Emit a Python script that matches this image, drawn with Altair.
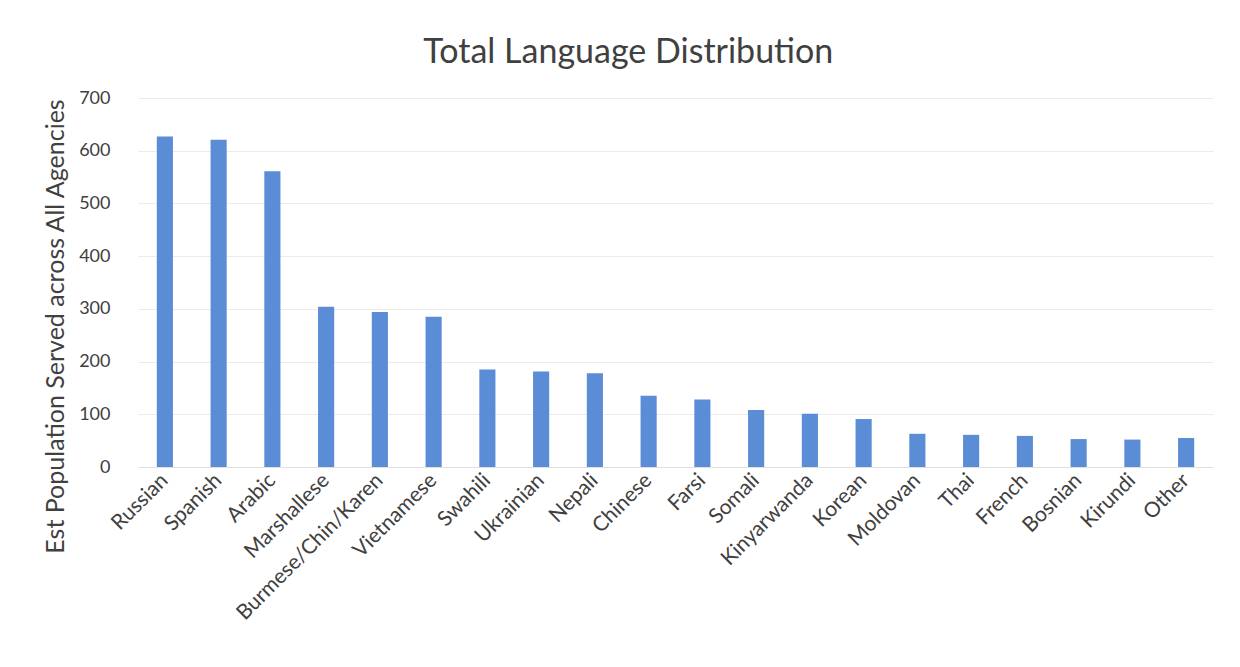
import altair as alt
import pandas as pd

languages = ["Russian", "Spanish", "Arabic", "Marshallese", "Burmese/Chin/Karen", "Vietnamese",
             "Swahili", "Ukrainian", "Nepali", "Chinese", "Farsi", "Somali", "Kinyarwanda",
             "Korean", "Moldovan", "Thai", "French", "Bosnian", "Kirundi", "Other"]
population = [627, 621, 561, 304, 294, 285, 185, 181, 178, 135, 128, 108, 101,
              91, 63, 61, 59, 53, 52, 55]

df = pd.DataFrame({"Language": languages, "Population": population})

FONT = "Lato"
TXT = "#404040"

chart = alt.Chart(df).mark_bar(color="#5b8dd6").encode(
    x=alt.X("Language:N", sort=languages, title=None,
            scale=alt.Scale(paddingInner=0.7, paddingOuter=0.35),
            axis=alt.Axis(labelAngle=-45, labelFontSize=21, labelColor=TXT, labelFont=FONT,
                          ticks=False, domainColor="#e0e0e0", labelPadding=10, labelLimit=400,
                          labelAlign="right", labelBaseline="middle")),
    y=alt.Y("Population:Q", title="Est Population Served across All Agencies",
            scale=alt.Scale(domain=[0, 700]),
            axis=alt.Axis(values=[0, 100, 200, 300, 400, 500, 600, 700], labelFontSize=18,
                          labelColor=TXT, labelFont=FONT, ticks=False, domain=False,
                          gridColor="#ebebeb", titleFontSize=25, titleFont=FONT,
                          titleColor=TXT, titleFontWeight="normal", labelPadding=28,
                          titlePadding=10, titleY=228)),
).properties(
    width=1075, height=369,
    title=alt.TitleParams("Total Language Distribution", fontSize=34, font=FONT,
                          color=TXT, fontWeight="normal", anchor="middle", frame="bounds",
                          offset=19),
    padding={"left": 35, "top": 28, "right": 10, "bottom": 5},
).configure_view(stroke=None).configure_axisX(grid=False)

chart.save("out.html", embed_options={"renderer": "svg", "actions": False})
